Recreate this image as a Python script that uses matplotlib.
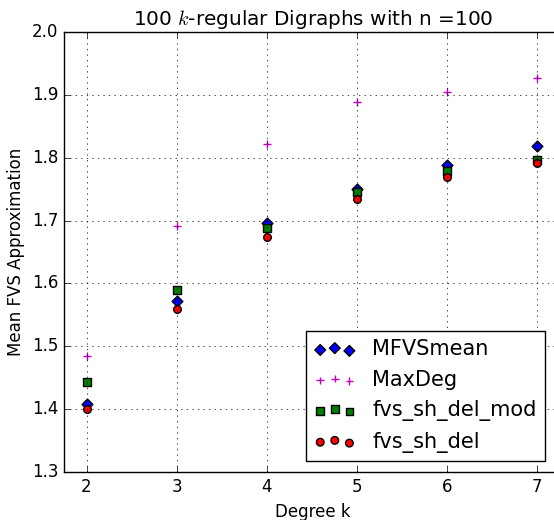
import matplotlib
matplotlib.use('Agg')
import matplotlib.pyplot as plt

plt.style.use('classic')

degrees = [2, 3, 4, 5, 6, 7]
mfvs_mean = [1.408, 1.572, 1.697, 1.751, 1.789, 1.818]
max_deg = [1.484, 1.692, 1.822, 1.889, 1.905, 1.927]
fvs_sh_del_mod = [1.443, 1.589, 1.689, 1.745, 1.779, 1.796]
fvs_sh_del = [1.401, 1.559, 1.674, 1.735, 1.770, 1.792]

fig = plt.figure(figsize=(5.54, 5.2), dpi=100)
# right edge of the axes falls just past the image edge, as in the original
ax = fig.add_axes([0.1155, 0.0923, 0.9, 0.846])

ax.scatter(degrees, mfvs_mean, marker='D', c='b', s=30, label='MFVSmean')
ax.scatter(degrees, max_deg, marker='+', c='m', s=30, label='MaxDeg')
ax.scatter(degrees, fvs_sh_del_mod, marker='s', c='g', s=30, label='fvs_sh_del_mod')
ax.scatter(degrees, fvs_sh_del, marker='o', c='r', s=30, label='fvs_sh_del')

ax.set_xlim(1.75, 7.28)
ax.set_ylim(1.3, 2.0)
ax.grid(True)
ax.set_title('100 $k$-regular Digraphs with n =100')
ax.set_xlabel('Degree k')
ax.set_ylabel('Mean FVS Approximation')
ax.legend(loc='lower right', fontsize=15, borderaxespad=0,
          bbox_to_anchor=(545 / 554, 59 / 520), bbox_transform=fig.transFigure)

fig.savefig('out.png', dpi=100)
